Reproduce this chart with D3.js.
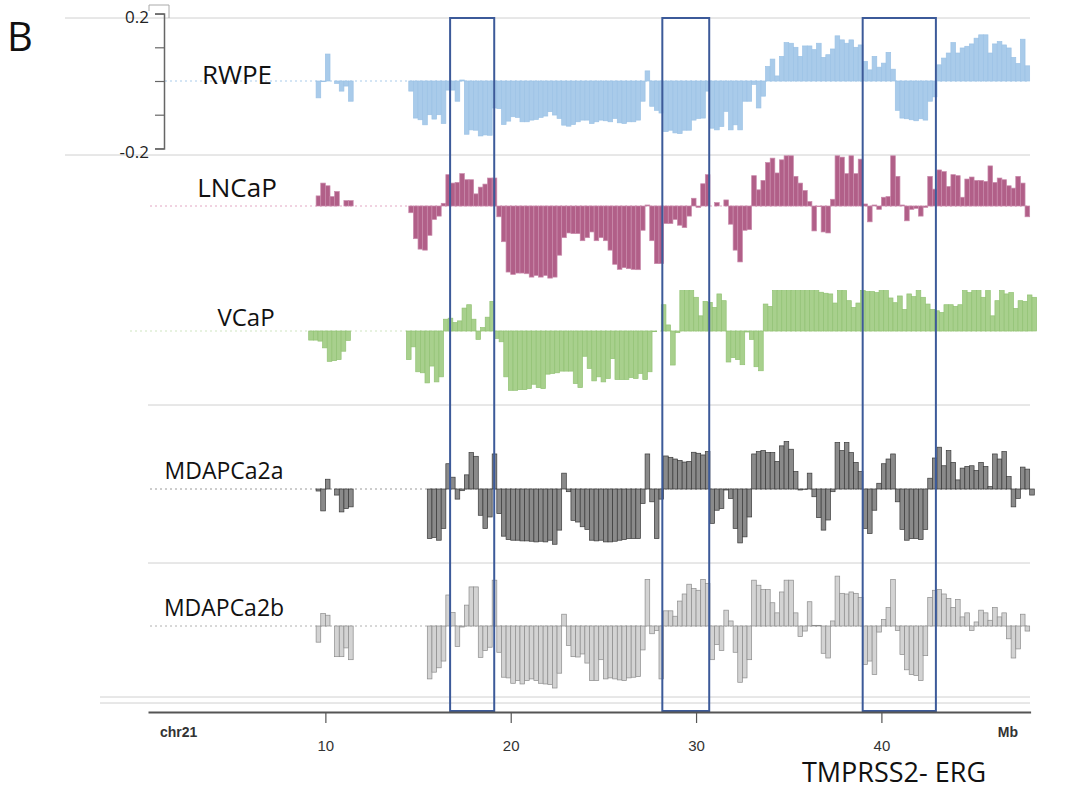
<!DOCTYPE html>
<html>
<head>
<meta charset="utf-8">
<script src="https://cdn.jsdelivr.net/npm/d3@7"></script>
<style>
  body { margin: 0; background: #fff; }
  svg { display: block; }
</style>
</head>
<body>
<div id="chart"></div>
<script>
// bins of 0.25 Mb along chr21 (log-ratio)
const binSize = 0.25;

const rwpeSmallStart = 9.5;
const rwpeSmall = [-0.05, -0.002, 0.08, 0, -0.007, -0.03, -0.015, -0.06];
const rwpeMainStart = 14.5;
const rwpeMain = [
  -0.03, -0.11, -0.115, -0.13, -0.10, -0.113, -0.10, -0.126, -0.027,
  -0.027, -0.06, 0.003, -0.158, -0.145, -0.146, -0.163, -0.16, -0.161, -0.08,
  -0.082, -0.129, -0.119, -0.106, -0.108, -0.121, -0.121, -0.116, -0.114, -0.108, -0.104, -0.091,
  -0.101, -0.111, -0.131, -0.134, -0.129, -0.121, -0.116, -0.116, -0.126, -0.121, -0.116, -0.118,
  -0.121, -0.111, -0.124, -0.126, -0.121, -0.121, -0.116, -0.06, 0.03, -0.075, -0.087, -0.095,
  -0.15, -0.146, -0.154, -0.156, -0.146, -0.146, -0.116, -0.111, -0.11, -0.03,
  -0.14, -0.145, -0.135, -0.09, -0.145, -0.13, -0.145, -0.06, -0.06, -0.01, -0.08, -0.045,
  0.043, 0.065, 0.015, 0.073, 0.114, 0.112, 0.1, 0.073, 0.104, 0.104, 0.093, 0.112, 0.07, 0.078,
  0.095, 0.134, 0.122, 0.112, 0.122, 0.1, 0.107,
  0.058, 0.033, 0.073, 0.041, 0.053, 0.085, 0.035, -0.087, -0.11, -0.112, -0.115, -0.118, -0.112,
  -0.116, -0.06, -0.047,
  0.048, 0.068, 0.083, 0.114, 0.083, 0.098, 0.103, 0.11, 0.127, 0.137, 0.137, 0.083, 0.11, 0.117,
  0.107, 0.098, 0.07, 0.052, 0.124, 0.045
];

const lncapSmallStart = 9.5;
const lncapSmall = [0.03, 0.068, 0.06, 0.028, 0.043, 0, 0.016, 0.016];
const lncapMainStart = 14.5;
const lncapMain = [
  -0.02, -0.097, -0.128, -0.131, -0.087, -0.04, -0.03, 0.008, 0.093, 0.068, 0.07, 0.096, 0.078,
  0.078, 0.036, 0.056, 0.065, 0.083, 0.083,
  -0.032, -0.106, -0.196, -0.203, -0.199, -0.199, -0.201, -0.211, -0.206, -0.211, -0.206, -0.214,
  -0.211, -0.146, -0.094, -0.08, -0.082, -0.082, -0.103, -0.094, -0.077, -0.103, -0.094, -0.103,
  -0.131, -0.173, -0.188, -0.183, -0.186, -0.188, -0.189,
  -0.072, 0.003, -0.103, -0.171, -0.171,
  -0.052, -0.052, -0.04, -0.057, -0.064, -0.03, 0.023, -0.004, 0.066, 0.093,
  0, 0.01, 0, 0.018, -0.054, -0.131, -0.166, -0.072, -0.07, 0.09, 0.048, 0.076, 0.129, 0.142,
  0.098, 0.137, 0.149, 0.149, 0.088, 0.068, 0.046, 0.013, -0.074, -0.002, -0.077, -0.08, 0.02,
  0.149, 0.145, 0.096, 0.149, 0.096, 0.139,
  0.006, -0.047, 0.003, -0.01, 0.026, 0.028, 0.149, 0.088, 0.003, -0.044, -0.01, -0.007, -0.03,
  -0.004, 0.088, 0.05,
  0.107, 0.102, 0.058, 0.093, 0.09, 0.026, 0.08, 0.086, 0.076, 0.076, 0.073, 0.119, 0.07, 0.083,
  0.078, 0.06, 0.053, 0.088, 0.068, -0.032
];

const vcapSmallStart = 9.1;
const vcapSmall = [-0.027, -0.027, -0.03, -0.05, -0.09, -0.088, -0.085, -0.06, -0.028];
const vcapMainStart = 14.375;
const vcapMain = [
  -0.085, -0.047, -0.121, -0.124, -0.154, -0.104, -0.151, -0.136,
  0.035, 0.038, 0.025, 0.03, 0.068, 0.078, 0.035, -0.025, 0.01, 0.041, 0.088,
  -0.022, -0.032, -0.136, -0.176, -0.176, -0.174, -0.174, -0.171, -0.158, -0.168, -0.171, -0.128,
  -0.126, -0.124, -0.119, -0.119, -0.119, -0.156, -0.168, -0.075, -0.111, -0.148, -0.136, -0.151,
  -0.141, -0.082, -0.144, -0.144, -0.144, -0.138, -0.141, -0.126, -0.144, -0.121, -0.002, 0,
  0.078, 0.018, -0.101, -0.005, 0.12, 0.12, 0.12, 0.1, 0.045, 0.088, 0.085, 0.07, 0.11, 0.09,
  -0.092, -0.079, -0.085, -0.1, -0.003, -0.025, -0.106, -0.118, 0.08, 0.073,
  0.12, 0.12, 0.12, 0.12, 0.12, 0.12, 0.12, 0.12, 0.12, 0.12,
  0.115, 0.112, 0.11, 0.083, 0.12, 0.12, 0.09, 0.07, 0.083, 0.12, 0.117, 0.117, 0.114, 0.12, 0.12,
  0.098, 0.084, 0.104, 0.064, 0.11, 0.102, 0.12, 0.10, 0.08, 0.064,
  0.06, 0.055, 0.078, 0.078, 0.073, 0.078, 0.12, 0.114, 0.12, 0.12, 0.1, 0.12, 0.045, 0.09, 0.12,
  0.11, 0.114, 0.067, 0.09, 0.088, 0.107, 0.10
];

const mda2aSmallStart = 9.5;
const mda2aSmall = [-0.006, -0.065, 0.029, 0, -0.018, -0.068, -0.058, -0.053];
const mda2aMainStart = 15.5;
const mda2aMain = [
  -0.147, -0.144, -0.152, -0.117,
  0.075, 0.035, -0.03, -0.005, 0.042, 0.108, 0.097, -0.078, -0.117, -0.083, 0.104,
  -0.073, -0.14, -0.15, -0.152, -0.152, -0.154, -0.154, -0.155, -0.157, -0.155, -0.157, -0.152,
  -0.164, -0.122,
  0.047, -0.008, -0.093, -0.098, -0.112, -0.12, -0.152, -0.154, -0.152, -0.157, -0.157, -0.155,
  -0.152, -0.15, -0.147, -0.147, -0.147, -0.043, 0.104, -0.038, -0.147, -0.03,
  0.098, 0.094, 0.089, 0.085, 0.08, 0.082, 0.109, 0.106, 0.101, 0.111,
  -0.102, -0.063, -0.058, -0.003, -0.028, -0.117, -0.16, -0.142, -0.083, 0.104, 0.111, 0.114,
  0.108, 0.108, 0.082, 0.128, 0.141, 0.118, 0.052, -0.003, -0.001, 0.047, -0.023, -0.085, -0.122,
  -0.092, -0.008, 0.138, 0.114, 0.138, 0.108, 0.079, 0.052,
  -0.117, -0.132, -0.063, 0.017, 0.075, 0.089, 0.104, -0.038, -0.12, -0.152, -0.147, -0.147,
  -0.15, -0.12, 0.032, 0.092,
  0.124, 0.069, 0.114, 0.079, 0.027, 0.062, 0.067, 0.069, 0.055, 0.079, 0.067, 0.007, 0.104,
  0.089, 0.111, 0.037, -0.053, -0.028, 0.065, 0.059, -0.018
];

const mda2bSmallStart = 9.5;
const mda2bSmall = [-0.048, 0.037, 0.032, 0, -0.091, -0.091, -0.065, -0.1];
const mda2bMainStart = 15.5;
const mda2bMain = [
  -0.157, -0.137, -0.124, -0.104,
  0.092, 0.04, -0.061, -0.003, 0.062, 0.116, 0.116, -0.093, -0.073, -0.063, 0.136,
  -0.078, -0.152, -0.154, -0.17, -0.162, -0.172, -0.162, -0.157, -0.162, -0.17, -0.172, -0.174,
  -0.184, -0.14,
  0.035, -0.058, -0.091, -0.092, -0.083, -0.11, -0.162, -0.162, -0.1, -0.157, -0.154, -0.157,
  -0.16, -0.162, -0.154, -0.152, -0.15, -0.071, 0.138, -0.023, -0.013, -0.157,
  0.045, 0.045, 0.029, 0.074, 0.095, 0.124, 0.111, 0.106, 0.138, 0.126,
  -0.1, -0.055, -0.073, 0.047, 0.015, -0.078, -0.167, -0.154, -0.1, 0.136, 0.121, 0.108, 0.108,
  0.069, 0.039, 0.101, 0.136, 0.136, 0.039, -0.031, -0.015, 0.072, 0.002, 0.002, -0.081, -0.095,
  0.015, 0.148, 0.097, 0.095, 0.101, 0.097, 0.085,
  -0.114, -0.104, -0.144, -0.018, 0.019, 0.055, 0.138, -0.013, -0.085, -0.13, -0.144, -0.147,
  -0.162, -0.088, 0.085, 0.106,
  0.108, 0.095, 0.082, 0.055, 0.079, 0.027, 0.039, -0.013, 0.012, 0.047, 0.039, 0.017, 0.055,
  0.027, 0.039, -0.038, -0.095, -0.068, 0.035, -0.015
];

// highlighted regions (Mb) and axis ticks
const boxStarts = [16.73, 28.18, 38.99];
const boxEnds = [19.11, 30.71, 42.94];
const tickValues = [10, 20, 30, 40];
const trackNames = ["RWPE", "LNCaP", "VCaP", "MDAPCa2a", "MDAPCa2b"];

const width = 1067, height = 792;

const svg = d3.select("#chart")
  .append("svg")
  .attr("width", width)
  .attr("height", height)
  .attr("viewBox", [0, 0, width, height]);

const x = d3.scaleLinear().domain([0.43, 48.05]).range([148, 1030.6]);
const pxPerUnit = 337;
const labelFont = "'Open Sans', 'DejaVu Sans', sans-serif";
const narrowFont = "'Liberation Sans Narrow', 'Liberation Sans', sans-serif";

// track layout
const layout = [
  { base: 81, fill: "#a9cbea", stroke: "#9cc2e5", dot: "#a9cbea", dotFrom: 165, lx: 237, ly: 75, fs: 26,
    small: [rwpeSmallStart, rwpeSmall], main: [rwpeMainStart, rwpeMain] },
  { base: 206, fill: "#b15f88", stroke: "#c98aab", dot: "#e3a6c3", dotFrom: 150, lx: 237, ly: 188, fs: 26,
    small: [lncapSmallStart, lncapSmall], main: [lncapMainStart, lncapMain] },
  { base: 331, fill: "#a8d08d", stroke: "#92c274", dot: "#cfe5c0", dotFrom: 130, lx: 246, ly: 318, fs: 24,
    small: [vcapSmallStart, vcapSmall], main: [vcapMainStart, vcapMain] },
  { base: 489, fill: "#8a8a8a", stroke: "#3a3a3a", dot: "#9a9a9a", dotFrom: 150, lx: 224, ly: 471, fs: 23,
    small: [mda2aSmallStart, mda2aSmall], main: [mda2aMainStart, mda2aMain] },
  { base: 626, fill: "#d3d3d3", stroke: "#8c8c8c", dot: "#b0b0b0", dotFrom: 150, lx: 224, ly: 608, fs: 23,
    small: [mda2bSmallStart, mda2bSmall], main: [mda2bMainStart, mda2bMain] }
];

// gray separators
const sepLines = [[65, 18], [65, 155], [148, 405], [148, 563], [100, 697], [100, 703]];
svg.append("g").selectAll("line")
  .data(sepLines)
  .enter().append("line")
  .attr("x1", d => d[0]).attr("x2", 1030)
  .attr("y1", d => d[1]).attr("y2", d => d[1])
  .attr("stroke", "#d0d0d0")
  .attr("stroke-width", 1);

layout.forEach((t, ti) => {
  const y = d3.scaleLinear().domain([-0.2, 0.2]).range([t.base + 0.2 * pxPerUnit, t.base - 0.2 * pxPerUnit]);
  const g = svg.append("g").attr("class", "track");

  g.append("line")
    .attr("x1", t.dotFrom).attr("x2", 1030)
    .attr("y1", y(0)).attr("y2", y(0))
    .attr("stroke", t.dot)
    .attr("stroke-width", 1)
    .attr("stroke-dasharray", "2,3");

  const bars = [];
  [t.small, t.main].forEach(([start, vals]) => {
    vals.forEach((v, i) => bars.push({ pos: start + i * binSize, v: v }));
  });
  const bw = x(binSize) - x(0);

  g.selectAll("rect")
    .data(bars.filter(d => d.v !== 0))
    .enter().append("rect")
    .attr("x", d => x(d.pos))
    .attr("width", bw)
    .attr("y", d => Math.min(y(d.v), y(0)))
    .attr("height", d => Math.abs(y(d.v) - y(0)))
    .attr("fill", t.fill)
    .attr("stroke", t.stroke)
    .attr("stroke-width", 0.7);

  g.append("text")
    .attr("x", t.lx)
    .attr("y", t.ly)
    .attr("dy", "0.35em")
    .attr("text-anchor", "middle")
    .style("font-family", labelFont)
    .style("font-size", t.fs + "px")
    .style("fill", "#111")
    .text(trackNames[ti]);

  // scale bar on the first track only
  if (ti === 0) {
    const yAxis = d3.axisLeft(y)
      .tickValues([-0.2, -0.1, 0, 0.1, 0.2])
      .tickSize(9)
      .tickPadding(6)
      .tickFormat(d => Math.abs(d) === 0.2 ? d3.format(".1f")(d).replace("−", "-") : "");
    const ya = svg.append("g")
      .attr("transform", "translate(164,0)")
      .call(yAxis);
    ya.select(".domain").attr("stroke", "#666").attr("stroke-width", 1.5);
    ya.selectAll(".tick line").attr("stroke", "#666").attr("stroke-width", 1.2);
    ya.selectAll(".tick text")
      .attr("dy", "0.55em")
      .style("font-family", labelFont)
      .style("font-size", "17px")
      .style("fill", "#222");
    svg.append("path")
      .attr("d", "M149,11V5H169V18")
      .attr("fill", "none")
      .attr("stroke", "#aaa");
  }
});

// highlighted boxes
svg.append("g").selectAll("rect")
  .data(boxStarts.map((s, i) => [s, boxEnds[i]]))
  .enter().append("rect")
  .attr("x", d => x(d[0]))
  .attr("width", d => x(d[1]) - x(d[0]))
  .attr("y", 18)
  .attr("height", 693)
  .attr("fill", "none")
  .attr("stroke", "#3c5a99")
  .attr("stroke-width", 2);

// x axis
const xa = svg.append("g")
  .attr("transform", "translate(0,712)")
  .call(d3.axisBottom(x).tickValues(tickValues).tickSize(11).tickSizeOuter(0).tickPadding(17));
xa.select(".domain").attr("stroke", "#555").attr("stroke-width", 2);
xa.selectAll(".tick line").attr("stroke", "#555").attr("stroke-width", 1.2);
xa.selectAll(".tick text")
  .style("font-family", narrowFont)
  .style("font-size", "15px")
  .style("fill", "#333");

svg.append("text")
  .attr("x", 160).attr("y", 737)
  .style("font-family", narrowFont)
  .style("font-size", "14px").style("font-weight", "bold").style("fill", "#333")
  .text("chr21");
svg.append("text")
  .attr("x", 1018).attr("y", 737)
  .attr("text-anchor", "end")
  .style("font-family", narrowFont)
  .style("font-size", "14px").style("font-weight", "bold").style("fill", "#333")
  .text("Mb");

svg.append("text")
  .attr("x", 894).attr("y", 773)
  .attr("dy", "0.35em")
  .attr("text-anchor", "middle")
  .style("font-family", labelFont)
  .style("font-size", "27px")
  .style("fill", "#111")
  .text("TMPRSS2- ERG");

svg.append("text")
  .attr("x", 7).attr("y", 37)
  .attr("dy", "0.35em")
  .style("font-family", labelFont)
  .style("font-size", "40px")
  .style("fill", "#111")
  .text("B");
</script>
</body>
</html>
